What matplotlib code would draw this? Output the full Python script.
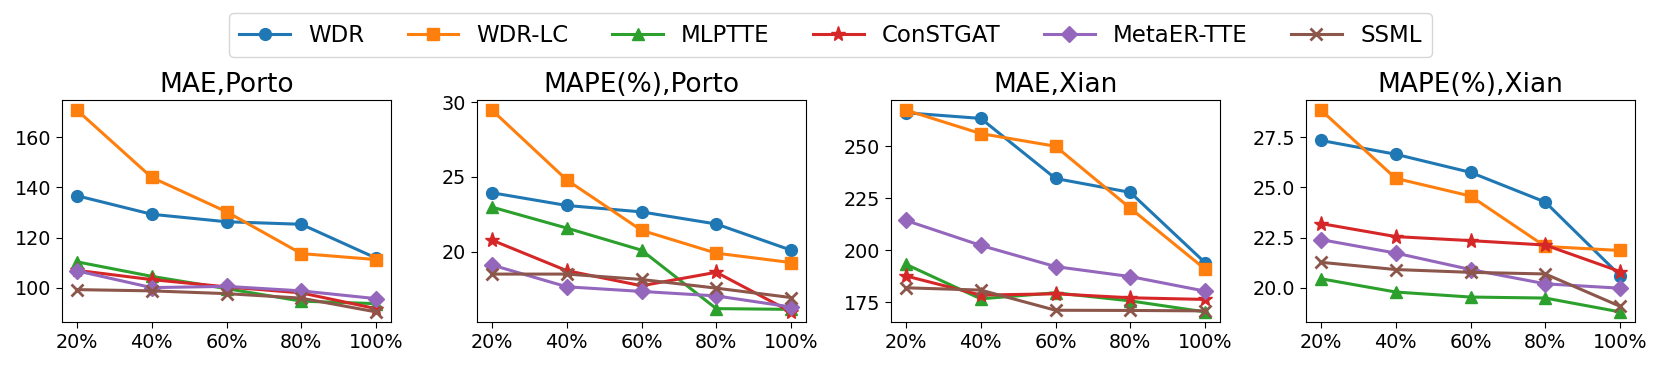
import matplotlib
matplotlib.use('Agg')
import matplotlib.pyplot as plt

# x categories (fraction of training data)
ratios = ['20%', '40%', '60%', '80%', '100%']
methods = ['WDR', 'WDR-LC', 'MLPTTE', 'ConSTGAT', 'MetaER-TTE', 'SSML']
markers = ['o', 's', '^', '*', 'D', 'x']
colors = ['#1f77b4', '#ff7f0e', '#2ca02c', '#d62728', '#9467bd', '#8c564b']

# MAE, Porto
mae_porto_wdr = [136.7, 129.3, 126.3, 125.3, 111.8]
mae_porto_wdrlc = [170.9, 144.0, 130.3, 113.6, 111.2]
mae_porto_mlptte = [110.3, 104.5, 99.6, 94.6, 93.6]
mae_porto_constgat = [106.9, 103.2, 100.3, 97.9, 91.6]
mae_porto_metaer = [106.7, 100.0, 100.5, 98.7, 95.6]
mae_porto_ssml = [99.2, 98.7, 97.6, 95.8, 90.3]

# MAPE(%), Porto
mape_porto_wdr = [23.93, 23.08, 22.65, 21.84, 20.09]
mape_porto_wdrlc = [29.46, 24.79, 21.42, 19.89, 19.26]
mape_porto_mlptte = [22.97, 21.57, 20.09, 16.18, 16.13]
mape_porto_constgat = [20.76, 18.72, 17.71, 18.61, 15.96]
mape_porto_metaer = [19.10, 17.64, 17.33, 17.03, 16.29]
mape_porto_ssml = [18.49, 18.49, 18.13, 17.55, 16.92]

# MAE, Xian
mae_xian_wdr = [266.1, 263.4, 234.5, 227.8, 194.0]
mae_xian_wdrlc = [267.4, 256.1, 250.0, 220.2, 190.9]
mae_xian_mlptte = [193.2, 176.6, 179.5, 175.6, 170.3]
mae_xian_constgat = [187.6, 178.4, 179.0, 177.1, 176.3]
mae_xian_metaer = [214.3, 202.3, 192.1, 187.3, 180.3]
mae_xian_ssml = [181.9, 180.8, 171.1, 171.0, 170.8]

# MAPE(%), Xian
mape_xian_wdr = [27.34, 26.65, 25.75, 24.27, 20.61]
mape_xian_wdrlc = [28.85, 25.45, 24.57, 22.06, 21.86]
mape_xian_mlptte = [20.45, 19.79, 19.54, 19.49, 18.80]
mape_xian_constgat = [23.20, 22.55, 22.35, 22.13, 20.81]
mape_xian_metaer = [22.40, 21.73, 20.91, 20.20, 19.98]
mape_xian_ssml = [21.27, 20.91, 20.77, 20.69, 19.08]

panels = [
    ('MAE,Porto', [mae_porto_wdr, mae_porto_wdrlc, mae_porto_mlptte,
                   mae_porto_constgat, mae_porto_metaer, mae_porto_ssml]),
    ('MAPE(%),Porto', [mape_porto_wdr, mape_porto_wdrlc, mape_porto_mlptte,
                       mape_porto_constgat, mape_porto_metaer, mape_porto_ssml]),
    ('MAE,Xian', [mae_xian_wdr, mae_xian_wdrlc, mae_xian_mlptte,
                  mae_xian_constgat, mae_xian_metaer, mae_xian_ssml]),
    ('MAPE(%),Xian', [mape_xian_wdr, mape_xian_wdrlc, mape_xian_mlptte,
                      mape_xian_constgat, mape_xian_metaer, mape_xian_ssml]),
]

W, H = 1661, 369
fig = plt.figure(figsize=(W / 100, H / 100), dpi=100)

# axes left edges in pixels
lefts = [62, 477, 891, 1306]
ax_w, top, bottom = 329, 100, 322

for i, (title, series) in enumerate(panels):
    ax = fig.add_axes([lefts[i] / W, 1 - bottom / H, ax_w / W, (bottom - top) / H])
    for name, vals, m, c in zip(methods, series, markers, colors):
        ms = 11 if m == '*' else 8.5
        ax.plot(ratios, vals, marker=m, color=c, label=name, lw=2.2, ms=ms,
                mew=2 if m == 'x' else 1)
    ax.set_title(title, fontsize=19)
    ax.tick_params(labelsize=13.8, length=4.5)
    if i == 0:
        handles, labels = ax.get_legend_handles_labels()

fig.legend(handles, labels, loc='upper center', ncol=6, fontsize=16.5,
           bbox_to_anchor=(0.5, 0.995), handlelength=2.2, columnspacing=1.9,
           borderpad=0.45)

fig.savefig('out.png', dpi=100)
